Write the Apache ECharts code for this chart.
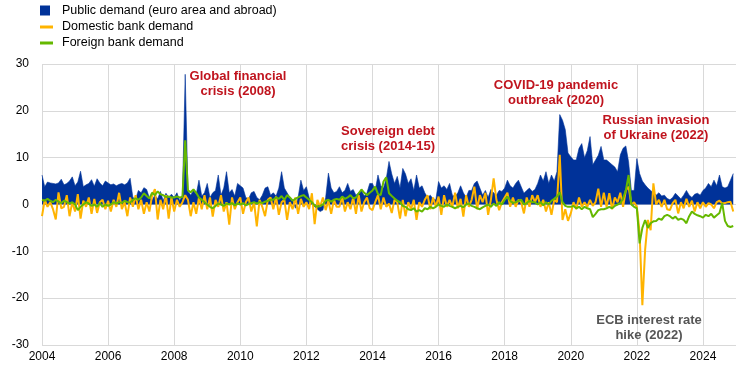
<!DOCTYPE html>
<html><head><meta charset="utf-8">
<script src="https://cdn.jsdelivr.net/npm/echarts@6/dist/echarts.min.js"></script>
<style>html,body{margin:0;padding:0;background:#fff}#c{width:744px;height:373px}</style>
</head><body><div id="c"></div>
<script>
const startYear = 2004;
const seriesNames = ['Public demand (euro area and abroad)', 'Domestic bank demand', 'Foreign bank demand'];
const xTickYears = [2004, 2006, 2008, 2010, 2012, 2014, 2016, 2018, 2020, 2022, 2024];
const yTicks = [-30, -20, -10, 0, 10, 20, 30];

// monthly values, Jan 2004 - Dec 2024
const publicDemand = [
  6.3, 3.8, 4.8, 4.6, 4.5, 4.4, 4.6, 5.4, 4.2, 4.5, 5.0, 5.9,
  4.0, 4.8, 7.1, 3.8, 4.2, 4.5, 5.3, 3.9, 5.5, 4.6, 4.0, 5.0,
  4.6, 4.2, 4.4, 4.0, 4.3, 4.5, 4.2, 4.6, 5.6, 1.5, 1.2, 3.0,
  2.5, 3.6, 3.2, 1.4, 1.0, 2.0, 1.2, 2.8, 0.8, 2.4, 1.5, 2.2,
  1.5, 2.5, 0.8, 2.0, 27.8, 2.8, 2.0, 3.0, 2.2, 5.2, 1.8, 2.5,
  4.5, 1.5, 2.5, 3.0, 6.3, 2.0, 3.5, 7.0, 2.5, 3.2, 1.8, 4.5,
  4.0, 3.5, 1.5, 1.2, 2.5, 2.8, 1.5, 1.0, 2.0, 3.5, 3.8, 2.0,
  2.5, 1.8, 3.5, 7.0, 3.5, 2.5, 1.5, 1.0, -0.8, 1.5, 5.2, 3.0,
  3.8, 1.5, 0.5, -0.5, -1.0, -1.5, -1.2, 1.5, 6.7, 3.5, 2.5, 2.8,
  3.8, 2.5, 3.0, 4.5, 2.8, 3.2, 2.0, 2.5, 3.0, 1.8, 2.5, 4.5,
  4.5, 3.0, 6.3, 4.0, 3.5, 5.5, 9.2, 6.5, 4.5, 6.0, 3.5, 7.7,
  6.5, 4.5, 5.5, 3.0, 6.3, 3.5, 4.0, 2.5, 1.5, 2.0, 1.2, 1.0,
  4.9, 3.5, 4.0, 3.2, 4.5, 2.0, 1.7, 2.5, 4.0, 2.5, 1.5, 3.0,
  3.0, 4.5, 5.0, 3.5, 2.0, 3.0, 1.5, 3.2, 2.5, 2.0, 3.0, 2.8,
  3.5, 5.2, 4.0, 3.5, 4.5, 5.2, 3.8, 2.4, 3.0, 3.5, 2.8, 3.2,
  4.5, 6.3, 5.0, 7.0, 4.5, 6.3, 5.0, 7.0, 19.2, 18.0, 16.0, 11.0,
  10.2, 9.5, 9.5, 12.0, 13.0, 10.0, 11.5, 14.5, 8.5, 9.5, 10.5, 12.4,
  9.5, 9.5, 9.0, 8.5, 8.0, 7.0, 10.6, 12.0, 12.5, 9.1, 3.0, 3.0,
  9.8, 6.6, 5.0, 4.2, 3.5, 3.0, 2.5, 2.0, 2.5, 1.8, 2.0, 1.3,
  1.0, 1.5, 2.4, 1.8, 1.2, 2.0, 3.0, 2.0, 1.5, 2.2, 2.4, 2.0,
  3.0, 3.5, 4.5, 3.8, 5.2, 4.0, 6.3, 3.8, 3.5, 3.8, 5.2, 6.6
];
const domesticBank = [
  -2.5, 1.0, -0.5, 0.5, -1.0, -3.2, 2.6, -0.8, -0.5, 2.0, -2.5, 0.5,
  -1.5, 2.2, -3.0, 0.8, -0.5, 1.5, -2.0, 1.2, -1.8, 0.5, 1.0, -1.0,
  0.8, -1.5, 1.0, -0.5, 2.5, -1.0, 0.5, -2.5, 1.5, -0.5, 2.0, -1.0,
  1.0, -2.0, 0.5, -1.5, 2.0, 3.3, -3.2, 1.0, -1.0, 2.0, -3.0, 1.5,
  -1.5, 1.0, -0.5, 0.5, 2.0, 1.0, -2.5, 0.5, -2.0, 1.5, -1.0, 2.0,
  -1.0, 1.5, -2.6, 1.0, -0.5, 2.0, -1.5, 0.5, -4.3, 1.5, -1.0, 0.5,
  1.5, -2.0, 0.5, 1.5, -1.5, 0.5, -4.7, 1.0, -0.5, -2.5, 1.0, 1.5,
  -1.0, 1.7, -2.2, 0.5, 1.0, -3.3, 0.5, -1.0, 1.5, -2.0, 1.2, -0.5,
  0.5, -1.0, 2.4, -4.2, 1.0, -0.5, 1.5, -1.2, 0.8, -2.0, 1.0, -0.5,
  -0.5, 1.6, -1.5, 0.5, -1.0, 1.5, -2.0, 2.0, -1.5, 0.5, 1.5, -0.8,
  -1.2, 0.5, 2.0, -1.0, 1.5, -0.5, 0.2, -1.8, 1.0, 0.5, -3.0, 1.0,
  -2.5, 0.5, -1.0, 1.0, -3.3, 0.5, -0.5, 1.0, 2.0, -1.0, 1.5, -0.5,
  1.7, -2.2, 2.0, -0.5, 1.0, -0.5, 2.5, -0.8, 1.2, -2.6, 2.0, -0.5,
  1.0, 3.8, -1.0, 2.0, 0.5, 2.5, -2.2, 1.0, 5.6, 1.0, -1.2, 0.5,
  1.5, 2.5, -0.5, 1.5, -0.5, 1.0, 0.5, -1.9, 1.5, -0.5, 2.0, 0.5,
  2.0, -0.5, 1.0, -1.5, 0.5, -2.2, 1.0, 0.5, 10.6, -3.3, -1.0, -3.5,
  -1.9, 0.5, -1.0, 1.5, -0.5, 0.5, -0.5, 1.0, -0.3, 0.5, 3.4, -0.5,
  2.5, -0.5, 2.4, -1.0, 1.5, 0.5, 2.5, -0.5, 3.0, 3.8, 0.0, 0.5,
  -0.5, -6.0, -21.5, -9.7, -3.3, -5.5, 4.5, 0.0, 1.0, -0.5, 1.0, -1.0,
  -1.2, 0.3, 1.0, -1.9, 0.5, -0.8, 1.2, -0.5, 0.8, -1.5, 0.5, -0.8,
  0.5, -0.5, 0.3, 0.0, -0.8, 0.5, 0.8, 0.2, 0.3, 0.5, 0.6, -1.5
];
const foreignBank = [
  1.0, 0.8, 1.2, 0.8, 0.5, 1.0, 0.6, 0.3, 0.8, 0.5, 0.2, 0.5,
  0.0, -1.2, -0.5, 0.0, 0.5, 0.2, -0.3, 0.0, -0.5, 0.3, -0.5, 0.0,
  -0.3, 0.0, 0.5, 0.2, 0.5, 0.3, 0.8, 0.5, 0.4, 1.0, 1.3, 1.0,
  1.5, 2.4, 1.8, 1.3, 2.5, 2.0, 2.8, 2.2, 2.0, 1.6, 1.7, 1.5,
  1.5, 1.7, 1.5, 1.6, 13.7, 3.0, 2.6, 3.2, 2.5, 1.5, 1.0, 0.5,
  0.0, -0.5, -0.8, -0.3, 0.2, 0.0, -0.3, 0.2, 0.0, 0.3, -0.2, 0.2,
  0.0, 0.3, -0.2, 0.1, 0.3, 0.5, 0.2, 0.5, 0.3, 0.6, 0.8, 1.0,
  1.0, 1.5, 1.2, 1.8, 1.0, 2.0, 1.5, 0.8, 1.2, 1.5, 1.8, 2.0,
  1.5, 1.0, 0.5, -0.2, -0.5, -0.3, 0.0, 0.8, 1.0, 0.6, 1.0, 1.2,
  1.0, 1.7, 1.2, 1.5, 2.0, 1.3, 1.5, 2.4, 3.2, 2.5, 2.0, 2.5,
  3.0, 3.8, 2.2, 2.0, 4.9, 5.8, 2.4, 1.8, 1.3, 0.8, 0.5, -0.3,
  -0.5, -1.0, -1.2, -0.8, -1.5, -1.2, -1.5, -0.8, -1.0, -0.5, -0.8, -0.5,
  0.0, -0.3, -0.5, 0.0, -0.3, -0.5, -0.8, -0.5, -0.3, -0.6, 0.0, 0.2,
  -0.3, -0.5, -0.8, -1.0, -0.6, -0.3, 0.0, -0.5, 0.2, -0.3, 0.5, 0.0,
  1.0, 1.7, 0.8, 0.3, 0.5, 0.8, 1.0, 0.0, 0.3, 0.8, 0.5, 0.5,
  0.0, 0.5, -0.2, 0.5, 0.0, 0.8, 1.2, 1.7, 2.6, 0.5, -0.3, -0.5,
  -0.5, -0.3, -0.8, -0.5, -1.0, -0.5, -0.8, -1.0, -2.7, -2.0, -1.2, -1.0,
  -1.0, -0.8, -0.5, -0.8, -0.3, 0.0, 0.3, 1.3, 3.0, 6.3, 0.0, -0.5,
  -0.8, -8.3, -5.0, -3.3, -5.0, -4.0, -3.6, -3.5, -3.0, -3.3, -2.5, -2.2,
  -2.5, -3.0, -2.6, -3.3, -3.0, -3.3, -4.0, -2.5, -1.5, -2.0, -2.3, -2.5,
  -2.8, -2.2, -2.5, -2.0, -2.8, -2.3, -1.8, 0.3, -3.5, -4.6, -4.8, -4.6
];
const annotations = [
  { text: 'Global financial\ncrisis (2008)', x: 238, y: 69, color: '#c0141e' },
  { text: 'Sovereign debt\ncrisis (2014-15)', x: 388, y: 124, color: '#c0141e' },
  { text: 'COVID-19 pandemic\noutbreak (2020)', x: 556, y: 78, color: '#c0141e' },
  { text: 'Russian invasion\nof Ukraine (2022)', x: 656, y: 113, color: '#c0141e' },
  { text: 'ECB interest rate\nhike (2022)', x: 649, y: 313, color: '#555555' }
];

function toPairs(values) {
  return values.map((v, i) => [startYear + i / 12, v]);
}

const FONT = 'Liberation Sans, Arial, sans-serif';
const chart = echarts.init(document.getElementById('c'), null, { renderer: 'canvas' });
chart.setOption({
  animation: false,
  backgroundColor: '#ffffff',
  textStyle: { fontFamily: FONT },
  grid: { left: 42, right: 8, top: 64, bottom: 28, containLabel: false },
  legend: [
    {
      data: [seriesNames[0]], left: 40, top: 4, orient: 'vertical', padding: 0,
      itemWidth: 10, itemHeight: 10, icon: 'rect',
      textStyle: { fontSize: 12.5, color: '#000', fontFamily: FONT, padding: [0, 0, 0, 7] }
    },
    {
      data: [seriesNames[1], seriesNames[2]], left: 40, top: 20, orient: 'vertical', padding: 0,
      itemWidth: 13, itemHeight: 3, icon: 'rect', itemGap: 2,
      textStyle: { fontSize: 12.5, color: '#000', fontFamily: FONT, lineHeight: 14, padding: [0, 0, 0, 4] }
    }
  ],
  xAxis: {
    type: 'value', min: 2004, max: 2025, interval: 2,
    axisLine: { show: false }, axisTick: { show: false },
    axisLabel: {
      fontSize: 12, color: '#000', margin: 6, showMaxLabel: false,
      formatter: v => xTickYears.includes(Math.round(v)) && Math.abs(v - Math.round(v)) < 1e-6 ? String(Math.round(v)) : ''
    },
    splitLine: { show: true, showMaxLine: false, lineStyle: { color: '#d9d9d9', width: 1 } }
  },
  yAxis: {
    type: 'value', min: yTicks[0], max: yTicks[yTicks.length - 1], interval: 10,
    axisLine: { show: false }, axisTick: { show: false },
    axisLabel: { fontSize: 12, color: '#000', margin: 13 },
    splitLine: { show: true, lineStyle: { color: '#d9d9d9', width: 1 } }
  },
  series: [
    {
      name: seriesNames[0], type: 'line', data: toPairs(publicDemand), symbol: 'none',
      itemStyle: { color: '#003299' },
      lineStyle: { color: '#003299', width: 0.6 },
      areaStyle: { color: '#003299', opacity: 1, origin: 0 }, z: 1
    },
    {
      name: seriesNames[1], type: 'line', data: toPairs(domesticBank), symbol: 'none',
      itemStyle: { color: '#ffb400' },
      lineStyle: { color: '#ffb400', width: 2 }, z: 2
    },
    {
      name: seriesNames[2], type: 'line', data: toPairs(foreignBank), symbol: 'none',
      itemStyle: { color: '#65b800' },
      lineStyle: { color: '#65b800', width: 2 }, z: 3
    }
  ],
  graphic: annotations.map(a => ({
    type: 'text', x: a.x, y: a.y, z: 100,
    style: { text: a.text, fill: a.color, font: 'bold 13px ' + FONT, align: 'center', verticalAlign: 'top', lineHeight: 15 }
  }))
});
</script></body></html>
